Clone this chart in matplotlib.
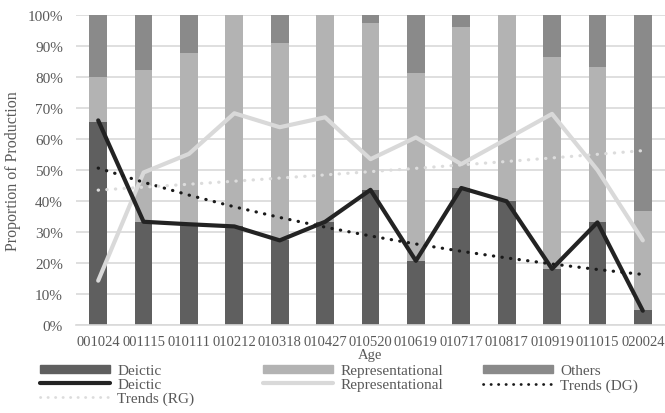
import numpy as np
import matplotlib.pyplot as plt
from matplotlib.lines import Line2D
from matplotlib.patches import Patch

plt.rcParams['font.family'] = ['Liberation Serif', 'DejaVu Serif']

# categories (age, yymmdd)
ages = ['001024', '001115', '010111', '010212', '010318', '010427', '010520',
        '010619', '010717', '010817', '010919', '011015', '020024']

# stacked bar shares (%)
deictic_bar = [65.6, 33.3, 32.5, 31.8, 27.3, 33.3, 43.6, 20.7, 44.2, 39.9, 18.1, 33.1, 5.0]
repr_bar = [14.4, 49.1, 55.2, 68.2, 63.8, 66.7, 53.8, 60.7, 52.0, 60.1, 68.4, 50.2, 31.9]
others_bar = [100 - d - r for d, r in zip(deictic_bar, repr_bar)]

# line series (%)
deictic_line = [66.0, 33.3, 32.5, 31.8, 27.3, 33.3, 43.6, 20.7, 44.2, 39.9, 18.1, 33.1, 4.6]
repr_line = [14.3, 49.2, 55.2, 68.3, 63.8, 67.0, 53.5, 60.5, 51.9, 60.0, 68.1, 50.0, 27.3]

C_DEI = '#5f5f5f'
C_REP = '#b3b3b3'
C_OTH = '#8a8a8a'
TXT = '#595959'
GRID = '#d9d9d9'

x = np.arange(len(ages))


def exp_trend(vals):
    # exponential trendline, like the spreadsheet's
    k, b = np.polyfit(x, np.log(vals), 1)
    return np.exp(b + k * x)


fig = plt.figure(figsize=(6.65, 4.14), dpi=100)
ax = fig.add_axes([75.5 / 665, 1 - 326 / 414, 590 / 665, 310 / 414])

w = 0.39
ax.bar(x, deictic_bar, w, color=C_DEI, zorder=2)
ax.bar(x, repr_bar, w, bottom=deictic_bar, color=C_REP, zorder=2)
ax.bar(x, others_bar, w, bottom=np.add(deictic_bar, repr_bar), color=C_OTH, zorder=2)

dot = (0, (0.1, 2.6))
ax.plot(x, deictic_line, color='#232323', lw=3.0, zorder=4, solid_capstyle='round')
ax.plot(x, repr_line, color='#d9d9d9', lw=3.0, zorder=3, solid_capstyle='round')
ax.plot(x, exp_trend(deictic_line), color='#1a1a1a', lw=2.3, ls=dot,
        dash_capstyle='round', zorder=5)
ax.plot(x, exp_trend(repr_line), color='#dcdcdc', lw=2.3, ls=dot,
        dash_capstyle='round', zorder=5)

ax.set_xlim(-0.5, len(ages) - 0.5)
ax.set_ylim(0, 100)
ax.set_yticks(np.arange(0, 101, 10))
ax.set_yticklabels([f'{v}%' for v in range(0, 101, 10)])
ax.set_xticks(x)
ax.set_xticklabels(ages)
ax.tick_params(axis='both', length=0, labelsize=11, labelcolor=TXT)
ax.tick_params(axis='x', labelsize=10.5, pad=7)
ax.tick_params(axis='y', pad=9)
ax.yaxis.grid(True, color=GRID, lw=1.2, zorder=0)
ax.set_axisbelow(True)
for s in ['top', 'right', 'left']:
    ax.spines[s].set_visible(False)
ax.spines['bottom'].set_color(GRID)
ax.spines['bottom'].set_linewidth(1.2)

ax.set_xlabel('Age', fontsize=10.5, color=TXT, labelpad=0)
ax.set_ylabel('Proportion of Production', fontsize=11.5, color=TXT, labelpad=5)

# legend, drawn as three columns
cols = [
    ([Patch(color=C_DEI), Line2D([], [], color='#232323', lw=3, solid_capstyle='round'),
      Line2D([], [], color='#dcdcdc', lw=2, ls=dot, dash_capstyle='round')],
     ['Deictic', 'Deictic', 'Trends (RG)'], 40),
    ([Patch(color=C_REP), Line2D([], [], color='#d9d9d9', lw=3, solid_capstyle='round')],
     ['Representational', 'Representational'], 263),
    ([Patch(color=C_OTH), Line2D([], [], color='#1a1a1a', lw=2, ls=dot, dash_capstyle='round')],
     ['Others', 'Trends (DG)'], 483),
]
for handles, labels, px in cols:
    leg = fig.legend(handles, labels, loc='upper left',
                     bbox_to_anchor=(px / 665, 1 - 365.5 / 414),
                     frameon=False, fontsize=11, handlelength=4.6, handleheight=0.4,
                     handletextpad=0.45, labelspacing=0.04, borderpad=0, borderaxespad=0)
    for t in leg.get_texts():
        t.set_color(TXT)

fig.savefig('out.png', dpi=100)
